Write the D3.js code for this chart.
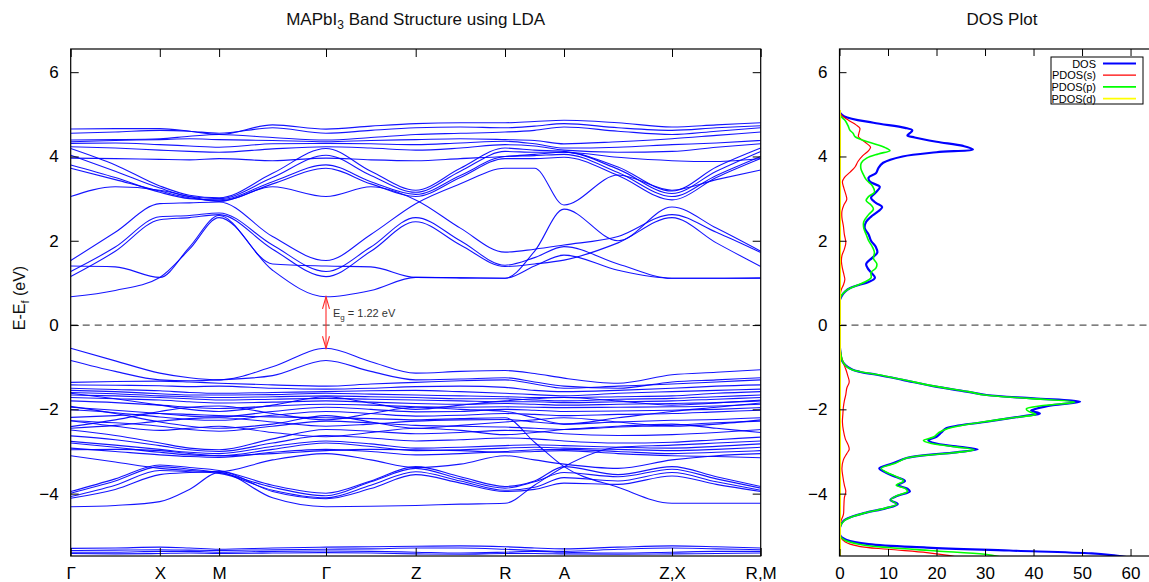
<!DOCTYPE html>
<html>
<head>
<meta charset="utf-8">
<script src="https://cdn.jsdelivr.net/npm/d3@7"></script>
<style>
  body { margin: 0; background: #fff; }
  text { font-family: "Liberation Sans", Arial, Helvetica, sans-serif; }
</style>
</head>
<body>
<svg id="chart" width="1149" height="582"></svg>
<script>
// High-symmetry path and its cumulative k-distance
const kLabels = ["Γ", "X", "M", "Γ", "Z", "R", "A", "Z,X", "R,M"];
const kPath = [0, 0.891, 1.484, 2.553, 3.450, 4.343, 4.933, 6.013, 6.900];
const energyTicks = [-4, -2, 0, 2, 4, 6];
const dosTicks = [0, 10, 20, 30, 40, 50, 60];

// Band energies (eV) sampled at each high-symmetry point and half-way between:
// Γ, ·, X, ·, M, ·, Γ, ·, Z, ·, R, ·, A, ·, Z|X, ·, R|M
const conductionBands = [
  [0.67, 0.82, 1.13, 1.80, 2.55, 1.30, 0.67, 0.82, 1.13, 1.12, 1.11, 1.75, 2.75, 2.00, 2.80, 2.30, 1.75],
  [1.40, 1.38, 1.13, 1.85, 2.60, 1.45, 1.40, 1.38, 1.13, 1.12, 1.11, 1.40, 1.66, 1.30, 1.11, 1.11, 1.11],
  [1.15, 1.75, 2.50, 2.55, 2.62, 1.80, 1.15, 1.75, 2.45, 1.90, 1.39, 1.45, 1.54, 1.95, 2.55, 1.95, 1.39],
  [1.27, 1.85, 2.57, 2.60, 2.66, 1.90, 1.27, 1.85, 2.55, 2.00, 1.42, 1.60, 1.86, 1.45, 1.11, 1.11, 1.12],
  [1.53, 2.20, 2.88, 2.90, 2.92, 2.10, 1.53, 2.15, 2.88, 3.35, 3.72, 3.72, 2.85, 3.56, 3.20, 3.45, 3.68],
  [3.05, 3.28, 3.20, 3.05, 2.93, 3.28, 3.05, 3.28, 2.97, 2.30, 1.73, 1.80, 1.90, 2.10, 2.62, 2.20, 1.72],
  [3.72, 3.45, 3.18, 3.02, 2.95, 3.35, 3.72, 3.35, 3.05, 3.50, 3.95, 3.95, 3.98, 3.55, 2.97, 3.50, 3.95],
  [3.80, 3.50, 3.15, 3.00, 2.97, 3.40, 3.80, 3.40, 3.10, 3.55, 4.00, 4.02, 4.05, 3.62, 3.05, 3.55, 4.00],
  [4.03, 3.65, 3.25, 3.05, 3.00, 3.50, 4.03, 3.55, 3.15, 3.65, 4.12, 4.10, 4.10, 3.70, 3.12, 3.65, 4.12],
  [4.19, 3.80, 3.30, 3.08, 3.02, 3.60, 4.19, 3.65, 3.20, 3.72, 4.20, 4.15, 4.12, 3.75, 3.18, 3.75, 4.20],
  [3.96, 3.95, 3.93, 3.92, 3.95, 3.90, 3.96, 3.92, 3.90, 3.95, 4.00, 4.05, 4.10, 3.98, 3.90, 3.88, 3.95],
  [4.23, 4.20, 4.15, 4.12, 4.10, 4.18, 4.23, 4.20, 4.15, 4.20, 4.28, 4.25, 4.15, 4.10, 4.12, 4.22, 4.30],
  [4.31, 4.32, 4.28, 4.25, 4.22, 4.30, 4.31, 4.30, 4.28, 4.32, 4.36, 4.30, 4.20, 4.22, 4.28, 4.32, 4.38],
  [4.35, 4.38, 4.40, 4.42, 4.40, 4.38, 4.35, 4.38, 4.40, 4.42, 4.40, 4.38, 4.30, 4.35, 4.42, 4.50, 4.58],
  [4.39, 4.40, 4.42, 4.48, 4.52, 4.45, 4.39, 4.45, 4.52, 4.55, 4.58, 4.62, 4.70, 4.60, 4.52, 4.60, 4.68],
  [4.55, 4.58, 4.62, 4.60, 4.55, 4.68, 4.55, 4.62, 4.68, 4.70, 4.68, 4.72, 4.78, 4.68, 4.62, 4.68, 4.73],
  [4.65, 4.66, 4.66, 4.60, 4.52, 4.75, 4.65, 4.72, 4.78, 4.80, 4.80, 4.83, 4.86, 4.80, 4.70, 4.75, 4.80]
];

const valenceBands = [
  [-0.55, -0.85, -1.14, -1.25, -1.30, -0.99, -0.55, -0.87, -1.14, -1.10, -1.08, -1.15, -1.26, -1.38, -1.18, -1.12, -1.06],
  [-0.84, -1.10, -1.30, -1.32, -1.30, -1.20, -0.84, -1.10, -1.30, -1.28, -1.25, -1.35, -1.45, -1.50, -1.35, -1.30, -1.25],
  [-1.36, -1.34, -1.33, -1.35, -1.38, -1.42, -1.45, -1.40, -1.36, -1.32, -1.30, -1.40, -1.50, -1.45, -1.40, -1.35, -1.30],
  [-1.42, -1.43, -1.44, -1.46, -1.45, -1.50, -1.52, -1.50, -1.46, -1.45, -1.48, -1.55, -1.58, -1.55, -1.50, -1.45, -1.42],
  [-1.50, -1.53, -1.56, -1.60, -1.62, -1.60, -1.58, -1.56, -1.55, -1.58, -1.62, -1.65, -1.68, -1.62, -1.58, -1.55, -1.52],
  [-1.55, -1.58, -1.63, -1.66, -1.66, -1.65, -1.62, -1.64, -1.66, -1.68, -1.70, -1.72, -1.72, -1.70, -1.68, -1.62, -1.58],
  [-1.60, -1.63, -1.68, -1.70, -1.72, -1.70, -1.68, -1.70, -1.72, -1.75, -1.75, -1.78, -1.80, -1.76, -1.74, -1.70, -1.66],
  [-1.66, -1.68, -1.72, -1.75, -1.78, -1.76, -1.74, -1.76, -1.78, -1.80, -1.82, -1.82, -1.84, -1.82, -1.80, -1.76, -1.72],
  [-1.72, -1.75, -1.78, -1.82, -1.85, -1.83, -1.80, -1.83, -1.86, -1.88, -1.86, -1.88, -1.90, -1.88, -1.86, -1.84, -1.80],
  [-1.80, -1.84, -1.90, -1.95, -1.98, -1.92, -1.88, -1.90, -1.94, -1.95, -1.94, -1.95, -1.96, -1.95, -1.94, -1.92, -1.88],
  [-1.95, -2.02, -2.10, -2.16, -2.18, -2.05, -1.95, -2.00, -2.06, -2.05, -2.00, -2.02, -2.05, -2.04, -2.02, -2.00, -1.96],
  [-2.01, -2.08, -2.18, -2.24, -2.26, -2.14, -2.05, -2.10, -2.16, -2.14, -2.10, -2.12, -2.15, -2.12, -2.10, -2.06, -2.02],
  [-2.19, -2.15, -2.10, -2.12, -2.15, -2.18, -2.20, -2.22, -2.25, -2.22, -2.20, -2.78, -3.36, -3.85, -4.23, -4.23, -4.23],
  [-2.27, -2.32, -2.40, -2.48, -2.52, -2.40, -2.28, -2.32, -2.38, -2.40, -2.42, -2.45, -2.48, -2.42, -2.38, -2.32, -2.28],
  [-2.45, -2.38, -2.28, -2.22, -2.20, -2.30, -2.40, -2.35, -2.28, -2.25, -2.24, -2.30, -2.35, -2.30, -2.26, -2.24, -2.20],
  [-2.49, -2.62, -2.80, -2.92, -2.96, -2.70, -2.48, -2.52, -2.58, -2.55, -2.50, -2.52, -2.58, -2.62, -2.60, -2.55, -2.48],
  [-2.63, -2.72, -2.86, -2.96, -3.00, -2.80, -2.62, -2.68, -2.75, -2.72, -2.68, -2.70, -2.75, -2.80, -2.78, -2.72, -2.66],
  [-2.76, -2.85, -2.95, -3.02, -3.05, -2.88, -2.75, -2.82, -2.92, -2.90, -2.86, -2.84, -2.86, -2.90, -2.92, -2.88, -2.82],
  [-2.80, -2.90, -3.02, -3.08, -3.10, -2.95, -2.80, -2.88, -2.98, -2.96, -2.92, -2.90, -2.92, -2.95, -2.98, -2.95, -2.90],
  [-2.92, -3.00, -3.08, -3.12, -3.14, -3.02, -2.95, -3.00, -3.08, -3.05, -3.00, -2.96, -2.95, -3.00, -3.05, -3.02, -2.98],
  [-2.96, -2.95, -2.98, -3.05, -3.10, -3.05, -2.98, -2.95, -2.96, -2.98, -3.02, -3.00, -2.98, -3.05, -3.10, -3.12, -3.15],
  [-2.41, -2.25, -2.05, -1.95, -1.92, -2.10, -2.25, -2.10, -1.95, -2.00, -2.05, -2.20, -2.35, -2.20, -2.05, -1.95, -1.85],
  [-1.93, -2.10, -2.30, -2.40, -2.45, -2.35, -2.15, -2.30, -2.45, -2.38, -2.30, -2.25, -2.20, -2.30, -2.40, -2.35, -2.25],
  [-1.62, -1.75, -1.90, -2.00, -2.05, -1.90, -1.70, -1.85, -2.00, -1.90, -1.80, -1.75, -1.72, -1.80, -1.90, -1.85, -1.78],
  [-2.27, -2.40, -2.50, -2.45, -2.40, -2.55, -2.65, -2.55, -2.45, -2.50, -2.60, -2.55, -2.48, -2.40, -2.35, -2.45, -2.55],
  [-3.95, -3.65, -3.32, -3.38, -3.45, -3.80, -3.99, -3.70, -3.36, -3.60, -3.83, -3.70, -3.36, -3.55, -3.36, -3.60, -3.83],
  [-3.99, -3.70, -3.36, -3.42, -3.50, -3.85, -4.05, -3.72, -3.40, -3.65, -3.87, -3.72, -3.50, -3.60, -3.42, -3.65, -3.87],
  [-4.07, -3.80, -3.45, -3.48, -3.52, -3.92, -4.10, -3.80, -3.48, -3.70, -3.92, -3.85, -3.62, -3.70, -3.50, -3.72, -3.92],
  [-4.11, -3.90, -3.55, -3.50, -3.48, -3.95, -4.12, -3.88, -3.55, -3.75, -3.95, -3.90, -3.75, -3.78, -3.58, -3.78, -3.95],
  [-4.31, -4.28, -4.19, -3.90, -3.50, -4.10, -4.31, -4.30, -4.28, -4.25, -4.23, -3.80, -3.36, -2.90, -2.85, -2.80, -2.75],
  [-3.10, -3.25, -3.40, -3.45, -3.48, -3.20, -3.05, -3.20, -3.38, -3.30, -3.10, -3.20, -3.30, -3.40, -3.20, -3.10, -3.05]
];

const semicoreBands = [
  [-5.30, -5.29, -5.27, -5.29, -5.32, -5.29, -5.27, -5.26, -5.25, -5.24, -5.26, -5.29, -5.31, -5.27, -5.24, -5.26, -5.29],
  [-5.35, -5.34, -5.33, -5.34, -5.35, -5.33, -5.32, -5.31, -5.29, -5.29, -5.32, -5.35, -5.37, -5.32, -5.29, -5.31, -5.33],
  [-5.39, -5.39, -5.37, -5.37, -5.39, -5.37, -5.36, -5.37, -5.39, -5.41, -5.39, -5.37, -5.39, -5.41, -5.39, -5.37, -5.37],
  [-5.42, -5.43, -5.42, -5.41, -5.42, -5.41, -5.40, -5.41, -5.43, -5.44, -5.42, -5.42, -5.43, -5.44, -5.43, -5.42, -5.41]
];

const gapEdges = { cbm: 0.67, vbm: -0.55 };
const gapLabel = "1.22 eV";

// Density of states: [energy (eV), states/eV]
const dosTotal = [
  [5.05, 0], [4.95, 1], [4.80, 7], [4.68, 13.5], [4.62, 15.0], [4.56, 14.6], [4.50, 14.0], [4.45, 15.5],
  [4.35, 20], [4.25, 25.5], [4.17, 27.5], [4.10, 20], [4.00, 13], [3.85, 9.0], [3.72, 8.0], [3.60, 7.5],
  [3.50, 6.0], [3.40, 6.3], [3.28, 8.3], [3.15, 7.5], [3.02, 6.5], [2.90, 7.5], [2.80, 8.8], [2.70, 8.0],
  [2.60, 6.8], [2.45, 5.5], [2.30, 5.2], [2.15, 6.0], [2.00, 6.5], [1.85, 7.5], [1.72, 7.8], [1.60, 6.8],
  [1.45, 5.5], [1.35, 5.8], [1.25, 6.5], [1.12, 7.3], [1.02, 6.0], [0.95, 4.0], [0.88, 2.2], [0.80, 1.2],
  [0.70, 0.5], [0.60, 0.1], [0.50, 0], [-0.45, 0], [-0.50, 0.05], [-0.65, 0.2], [-0.83, 0.45], [-0.95, 1.2],
  [-1.05, 2.5], [-1.12, 4.5], [-1.18, 7.7], [-1.30, 13], [-1.45, 19.3], [-1.58, 26.2], [-1.66, 30.3],
  [-1.74, 40], [-1.82, 49.6], [-1.90, 44], [-1.98, 40.7], [-2.03, 39.5], [-2.10, 41.3], [-2.16, 38],
  [-2.30, 30], [-2.45, 22], [-2.55, 21], [-2.65, 20], [-2.73, 18.3], [-2.80, 19.5], [-2.88, 24], [-2.95, 28.5],
  [-3.02, 24], [-3.15, 14], [-3.28, 11.0], [-3.40, 8.2], [-3.50, 9.5], [-3.60, 11.5], [-3.70, 13.5],
  [-3.80, 12.0], [-3.88, 14.0], [-3.95, 14.5], [-4.05, 12], [-4.15, 10.5], [-4.25, 12], [-4.35, 9.5],
  [-4.45, 5.5], [-4.55, 2.5], [-4.65, 0.8], [-4.80, 0.1], [-5.00, 0.2], [-5.10, 1.5], [-5.20, 6],
  [-5.28, 18], [-5.35, 35], [-5.42, 52], [-5.46, 56], [-5.52, 60]
];

const pdosS = [
  [5.08, 0], [4.98, 0.4], [4.85, 2.0], [4.75, 3.4], [4.67, 4.2], [4.55, 4.0], [4.47, 3.9], [4.38, 4.8],
  [4.31, 5.6], [4.22, 6.4], [4.14, 6.0], [4.02, 4.8], [3.88, 3.8], [3.75, 3.2], [3.63, 2.2], [3.50, 1.0],
  [3.40, 0.6], [3.25, 0.9], [3.10, 1.3], [2.98, 1.5], [2.85, 0.9], [2.70, 0.5], [2.55, 0.5], [2.35, 0.8],
  [2.15, 1.0], [1.95, 1.3], [1.80, 1.0], [1.65, 0.5], [1.50, 0.4], [1.35, 0.6], [1.20, 0.9], [1.08, 1.1],
  [0.95, 0.8], [0.85, 0.4], [0.70, 0.1], [0.55, 0], [-0.45, 0], [-0.70, 0.3], [-0.90, 0.8], [-1.05, 1.3],
  [-1.20, 1.7], [-1.35, 2.0], [-1.50, 1.5], [-1.65, 1.3], [-1.80, 1.0], [-1.95, 0.8], [-2.10, 0.7],
  [-2.30, 0.6], [-2.50, 0.8], [-2.70, 1.2], [-2.85, 1.8], [-2.95, 2.0], [-3.05, 1.5], [-3.20, 0.8],
  [-3.40, 0.5], [-3.60, 0.7], [-3.80, 1.0], [-3.95, 1.3], [-4.10, 1.0], [-4.30, 0.9], [-4.50, 0.8],
  [-4.65, 0.3], [-4.80, 0], [-5.00, 0.1], [-5.15, 1.2], [-5.25, 4], [-5.32, 10], [-5.40, 18], [-5.46, 22], [-5.52, 25]
];

const pdosP = [
  [5.05, 0], [4.95, 0.3], [4.85, 1.2], [4.72, 1.8], [4.63, 2.1], [4.55, 2.8], [4.47, 3.2], [4.38, 5.0],
  [4.28, 7.8], [4.19, 9.8], [4.14, 10.4], [4.06, 8.0], [3.96, 5.6], [3.85, 4.5], [3.72, 4.4], [3.60, 4.8],
  [3.45, 5.5], [3.30, 6.8], [3.15, 7.2], [3.05, 6.0], [2.95, 5.5], [2.85, 6.5], [2.75, 7.0], [2.62, 6.0],
  [2.45, 5.0], [2.30, 5.0], [2.15, 5.5], [2.00, 6.0], [1.85, 6.8], [1.72, 7.2], [1.58, 7.0], [1.45, 7.7],
  [1.35, 7.5], [1.25, 6.5], [1.12, 6.5], [1.02, 5.2], [0.95, 3.8], [0.85, 1.8], [0.78, 1.0], [0.68, 0.3],
  [0.55, 0], [-0.45, 0], [-0.55, 0.1], [-0.70, 0.3], [-0.85, 0.6], [-0.97, 1.3], [-1.06, 2.6], [-1.12, 4.8],
  [-1.18, 8.0], [-1.30, 13.2], [-1.45, 19.5], [-1.58, 26.5], [-1.66, 30.0], [-1.74, 39], [-1.83, 48.5],
  [-1.91, 42], [-1.99, 38.5], [-2.05, 39.0], [-2.12, 40.5], [-2.18, 37], [-2.30, 29.5], [-2.45, 22.5],
  [-2.55, 20.5], [-2.65, 19.5], [-2.74, 17.3], [-2.81, 19], [-2.89, 24], [-2.96, 27.8], [-3.03, 23.5],
  [-3.15, 14], [-3.28, 11.5], [-3.40, 8.6], [-3.50, 9.8], [-3.60, 11.8], [-3.70, 13.2], [-3.80, 11.7],
  [-3.88, 13.6], [-3.95, 14.0], [-4.05, 11.8], [-4.15, 10.6], [-4.25, 11.8], [-4.35, 9.3], [-4.45, 5.5],
  [-4.55, 2.6], [-4.65, 0.9], [-4.80, 0.1], [-5.00, 0.1], [-5.10, 1.0], [-5.20, 4], [-5.28, 10],
  [-5.36, 20], [-5.44, 30], [-5.52, 34]
];

const pdosD = [
  [5.10, 0.15], [2.00, 0.15], [0.00, 0.15], [-2.00, 0.15], [-4.00, 0.15], [-5.52, 0.15]
];

const legendEntries = [
  { name: "DOS", color: "#0000ff", width: 2.2 },
  { name: "PDOS(s)", color: "#ff0000", width: 1.2 },
  { name: "PDOS(p)", color: "#00ff00", width: 1.6 },
  { name: "PDOS(d)", color: "#ffff00", width: 1.6 }
];

// ---------- layout ----------
const svg = d3.select("#chart");
const plotTop = 49, plotBottom = 556;
const bandLeft = 70.7, bandRight = 760.7;
const dosLeft = 839.5, dosRight = 1164.5;

const y = d3.scaleLinear().domain([-5.48, 6.55]).range([plotBottom, plotTop]);
const xk = d3.scaleLinear().domain([0, kPath[kPath.length - 1]]).range([bandLeft, bandRight]);
const xd = d3.scaleLinear().domain([0, 67]).range([dosLeft, dosRight]);

// k grid: each high-symmetry point followed by the midpoint to the next
const kGrid = [];
kPath.forEach((k, i) => {
  kGrid.push(k);
  if (i < kPath.length - 1) kGrid.push((k + kPath[i + 1]) / 2);
});

const defs = svg.append("defs");
defs.append("clipPath").attr("id", "clipBand")
  .append("rect").attr("x", bandLeft).attr("y", plotTop).attr("width", bandRight - bandLeft).attr("height", plotBottom - plotTop);
defs.append("clipPath").attr("id", "clipDos")
  .append("rect").attr("x", dosLeft).attr("y", plotTop).attr("width", dosRight - dosLeft).attr("height", plotBottom - plotTop);

// ---------- band structure ----------
const bandLine = d3.line()
  .x((d, i) => xk(kGrid[i]))
  .y(d => y(d))
  .curve(d3.curveMonotoneX);

const bandG = svg.append("g").attr("clip-path", "url(#clipBand)");

// Fermi level
bandG.append("line")
  .attr("x1", bandLeft).attr("x2", bandRight)
  .attr("y1", y(0)).attr("y2", y(0))
  .attr("stroke", "#555").attr("stroke-width", 1.2).attr("stroke-dasharray", "7,5");

bandG.selectAll("path.band")
  .data([...semicoreBands, ...valenceBands, ...conductionBands])
  .join("path")
  .attr("class", "band")
  .attr("d", bandLine)
  .attr("fill", "none")
  .attr("stroke", "#0000ff")
  .attr("stroke-width", 1.1)
  .attr("stroke-opacity", 0.92);

// Band-gap arrow at Γ
const gx = xk(kPath[3]);
const gTop = y(gapEdges.cbm), gBot = y(gapEdges.vbm);
const arrowG = svg.append("g").attr("stroke", "#ff2a2a").attr("stroke-width", 1.1).attr("fill", "none");
arrowG.append("line").attr("x1", gx).attr("x2", gx).attr("y1", gTop).attr("y2", gBot);
arrowG.append("path").attr("d", `M${gx - 3.5},${gTop + 12}L${gx},${gTop}L${gx + 3.5},${gTop + 12}`);
arrowG.append("path").attr("d", `M${gx - 3.5},${gBot - 12}L${gx},${gBot}L${gx + 3.5},${gBot - 12}`);

const egText = svg.append("text")
  .attr("x", gx + 7).attr("y", y(0) - 8)
  .attr("font-size", 11).attr("fill", "#333");
egText.append("tspan").text("E");
egText.append("tspan").attr("font-size", 8).attr("dy", 3).text("g");
egText.append("tspan").attr("dy", -3).text(" = " + gapLabel);

// Axes: inward ticks, no domain path (frames are drawn separately)
function styleAxis(g, size) {
  g.attr("font-family", null).attr("font-size", null);
  g.selectAll(".domain").remove();
  g.selectAll(".tick line").attr("stroke", "#000").attr("stroke-width", 1);
  g.selectAll(".tick text").attr("fill", "#000").attr("font-size", size);
}

svg.append("g").attr("transform", `translate(${bandLeft},0)`)
  .call(d3.axisLeft(y).tickValues(energyTicks).tickSize(-8).tickPadding(12).tickFormat(d3.format("d")))
  .call(g => styleAxis(g, 17));
svg.append("g").attr("transform", `translate(${bandRight},0)`)
  .call(d3.axisRight(y).tickValues(energyTicks).tickSize(-8).tickFormat(""))
  .call(g => styleAxis(g, 17));
svg.append("g").attr("transform", `translate(0,${plotBottom})`)
  .call(d3.axisBottom(xk).tickValues(kPath).tickSize(-8).tickPadding(11).tickFormat((d, i) => kLabels[i]))
  .call(g => styleAxis(g, 17));
svg.append("g").attr("transform", `translate(0,${plotTop})`)
  .call(d3.axisTop(xk).tickValues(kPath).tickSize(-8).tickFormat(""))
  .call(g => styleAxis(g, 17));

svg.append("rect")
  .attr("x", bandLeft).attr("y", plotTop)
  .attr("width", bandRight - bandLeft).attr("height", plotBottom - plotTop)
  .attr("fill", "none").attr("stroke", "#000").attr("stroke-width", 1.2);

// Titles
const title = svg.append("text")
  .attr("x", (bandLeft + bandRight) / 2).attr("y", 25)
  .attr("text-anchor", "middle").attr("font-size", 17).attr("fill", "#111");
title.append("tspan").text("MAPbI");
title.append("tspan").attr("font-size", 12).attr("dy", 4).text("3");
title.append("tspan").attr("dy", -4).text(" Band Structure using LDA");

const yTitle = svg.append("text")
  .attr("transform", `translate(25,298) rotate(-90)`)
  .attr("text-anchor", "middle").attr("font-size", 16).attr("fill", "#111");
yTitle.append("tspan").text("E-E");
yTitle.append("tspan").attr("font-size", 11).attr("dy", 4).text("f");
yTitle.append("tspan").attr("dy", -4).text(" (eV)");

// ---------- DOS panel ----------
const dosG = svg.append("g").attr("clip-path", "url(#clipDos)");
dosG.append("line")
  .attr("x1", dosLeft).attr("x2", dosRight)
  .attr("y1", y(0)).attr("y2", y(0))
  .attr("stroke", "#555").attr("stroke-width", 1.2).attr("stroke-dasharray", "7,5");

const dosLine = d3.line()
  .x(d => xd(d[1]))
  .y(d => y(d[0]))
  .curve(d3.curveCatmullRom.alpha(0.5));

const dosSeries = [dosTotal, pdosS, pdosP, pdosD];
dosG.selectAll("path.dos")
  .data(dosSeries)
  .join("path")
  .attr("class", "dos")
  .attr("d", dosLine)
  .attr("fill", "none")
  .attr("stroke", (d, i) => legendEntries[i].color)
  .attr("stroke-width", (d, i) => legendEntries[i].width);

svg.append("g").attr("transform", `translate(${dosLeft},0)`)
  .call(d3.axisLeft(y).tickValues(energyTicks).tickSize(-7).tickPadding(12).tickFormat(d3.format("d")))
  .call(g => styleAxis(g, 17));
svg.append("g").attr("transform", `translate(0,${plotBottom})`)
  .call(d3.axisBottom(xd).tickValues(dosTicks).tickSize(-7).tickPadding(11).tickFormat(d3.format("d")))
  .call(g => styleAxis(g, 17));
svg.append("g").attr("transform", `translate(0,${plotTop})`)
  .call(d3.axisTop(xd).tickValues(dosTicks).tickSize(-7).tickFormat(""))
  .call(g => styleAxis(g, 17));

svg.append("rect")
  .attr("x", dosLeft).attr("y", plotTop)
  .attr("width", dosRight - dosLeft).attr("height", plotBottom - plotTop)
  .attr("fill", "none").attr("stroke", "#000").attr("stroke-width", 1.2);

svg.append("text")
  .attr("x", (dosLeft + dosRight) / 2).attr("y", 25)
  .attr("text-anchor", "middle").attr("font-size", 17).attr("fill", "#111")
  .text("DOS Plot");

// Legend
const lg = svg.append("g").attr("transform", "translate(1051,57)");
lg.append("rect").attr("width", 92).attr("height", 47)
  .attr("fill", "#fff").attr("stroke", "#000").attr("stroke-width", 1);
const rows = lg.selectAll("g.row").data(legendEntries).join("g")
  .attr("class", "row")
  .attr("transform", (d, i) => `translate(0,${6.5 + i * 11.7})`);
rows.append("text")
  .attr("x", 45).attr("y", 4).attr("text-anchor", "end")
  .attr("font-size", 11).attr("fill", "#000")
  .text(d => d.name);
rows.append("line")
  .attr("x1", 52).attr("x2", 85).attr("y1", 0).attr("y2", 0)
  .attr("stroke", d => d.color).attr("stroke-width", d => d.width);
</script>
</body>
</html>
